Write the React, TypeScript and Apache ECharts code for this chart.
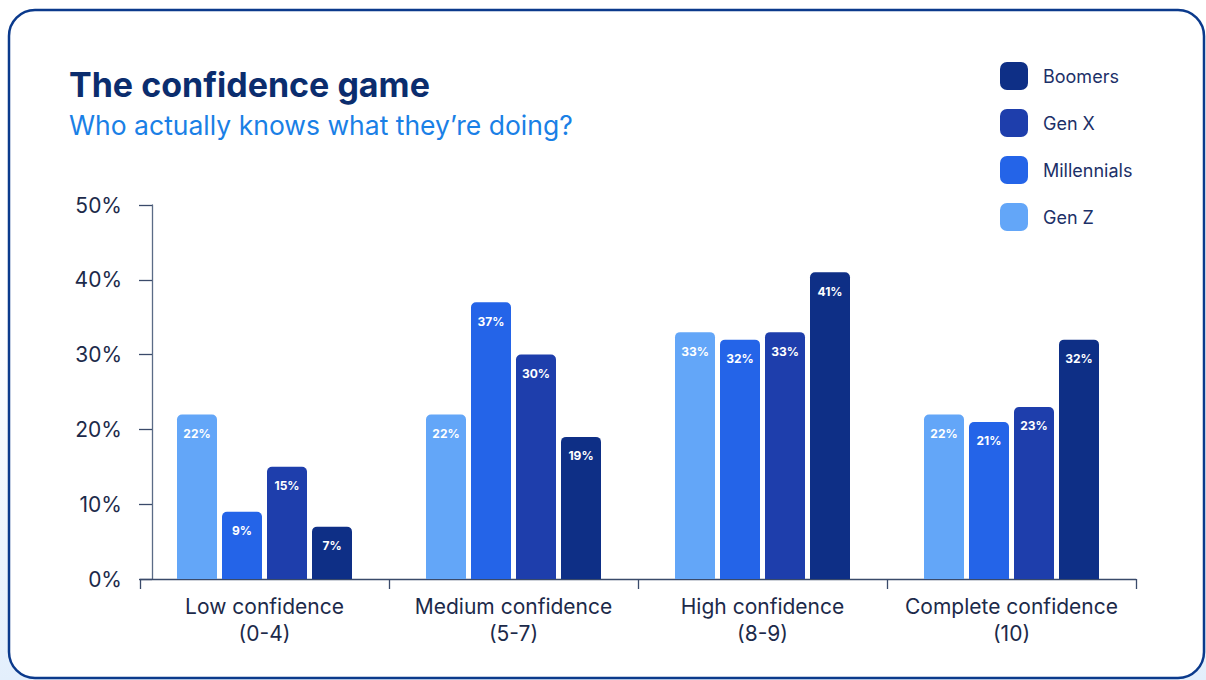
import React, { useEffect, useRef } from "react";
import * as echarts from "echarts";

const categories = ["Low confidence\n(0-4)", "Medium confidence\n(5-7)", "High confidence\n(8-9)", "Complete confidence\n(10)"];
const genZ = [22, 22, 33, 22];
const millennials = [9, 37, 32, 21];
const genX = [15, 30, 33, 23];
const boomers = [7, 19, 41, 32];
const yTicks = [0, 10, 20, 30, 40, 50];
const legendOrder = ["Boomers", "Gen X", "Millennials", "Gen Z"];

const FONT = "Inter, 'Noto Sans', sans-serif";

export default function App() {
  const ref = useRef<HTMLDivElement>(null);
  useEffect(() => {
    if (!ref.current) return;
    const chart = echarts.init(ref.current, undefined, { renderer: "svg" });
    const mk = (name: string, data: number[], color: string) => ({
      name,
      type: "bar",
      data,
      barWidth: 40,
      barGap: "12.5%",
      itemStyle: { color, borderRadius: [5, 5, 0, 0] },
      label: {
        show: true,
        position: "insideTop",
        distance: 13,
        formatter: "{c}%",
        color: "#ffffff",
        fontSize: 12,
        fontWeight: "bold",
        fontFamily: FONT,
      },
    });
    chart.setOption({
      animation: false,
      textStyle: { fontFamily: FONT },
      graphic: [
        {
          type: "rect",
          z: -10,
          shape: { x: 9, y: 10, width: 1195, height: 668, r: 26 },
          style: { fill: "#ffffff", stroke: "#0b3a8c", lineWidth: 2.5 },
        },
      ],
      title: {
        text: "The confidence game",
        subtext: "Who actually knows what they\u2019re doing?",
        left: 64,
        top: 62,
        itemGap: 10,
        textStyle: { fontSize: 34, fontWeight: "bold", color: "#0b2d6e", fontFamily: FONT },
        subtextStyle: { fontSize: 26.5, color: "#1a80e6", fontFamily: FONT },
      },
      legend: {
        orient: "vertical",
        left: 995,
        top: 57,
        itemWidth: 28,
        itemHeight: 28,
        itemGap: 19,
        icon: "roundRect",
        data: legendOrder,
        textStyle: { fontSize: 18, color: "#1c3068", fontFamily: FONT, padding: [0, 0, 0, 10] },
      },
      grid: { left: 140, right: 70, top: 205, bottom: 101, containLabel: false },
      xAxis: {
        type: "category",
        data: categories,
        axisLine: { show: true, lineStyle: { color: "#3a4a6a", width: 1.3 } },
        axisTick: { show: true, interval: 0, length: 10, lineStyle: { color: "#3a4a6a", width: 1.3 } },
        axisLabel: { interval: 0, fontSize: 21, lineHeight: 27, color: "#1c2a4a", margin: 14, fontFamily: FONT },
      },
      yAxis: {
        type: "value",
        min: yTicks[0],
        max: yTicks[yTicks.length - 1],
        interval: 10,
        offset: -12,
        axisLine: { show: true, lineStyle: { color: "#5a6b86", width: 1.3 } },
        axisTick: { show: true, length: 13, lineStyle: { color: "#3a4a6a", width: 1.3 } },
        splitLine: { show: false },
        axisLabel: { formatter: "{value}%", fontSize: 21, color: "#1c2a4a", margin: 30, fontFamily: FONT },
      },
      series: [
        mk("Gen Z", genZ, "#63a6f8"),
        mk("Millennials", millennials, "#2464e8"),
        mk("Gen X", genX, "#1e3eac"),
        mk("Boomers", boomers, "#0e2f86"),
      ],
    });
    return () => chart.dispose();
  }, []);
  return (
    <div
      style={{
        position: "absolute",
        left: 0,
        top: 0,
        width: 1206,
        height: 680,
        background: "linear-gradient(180deg, #ffffff 0%, #ffffff 45%, #e3effc 100%)",
      }}
    >
      <div ref={ref} style={{ width: 1206, height: 680 }} />
    </div>
  );
}
